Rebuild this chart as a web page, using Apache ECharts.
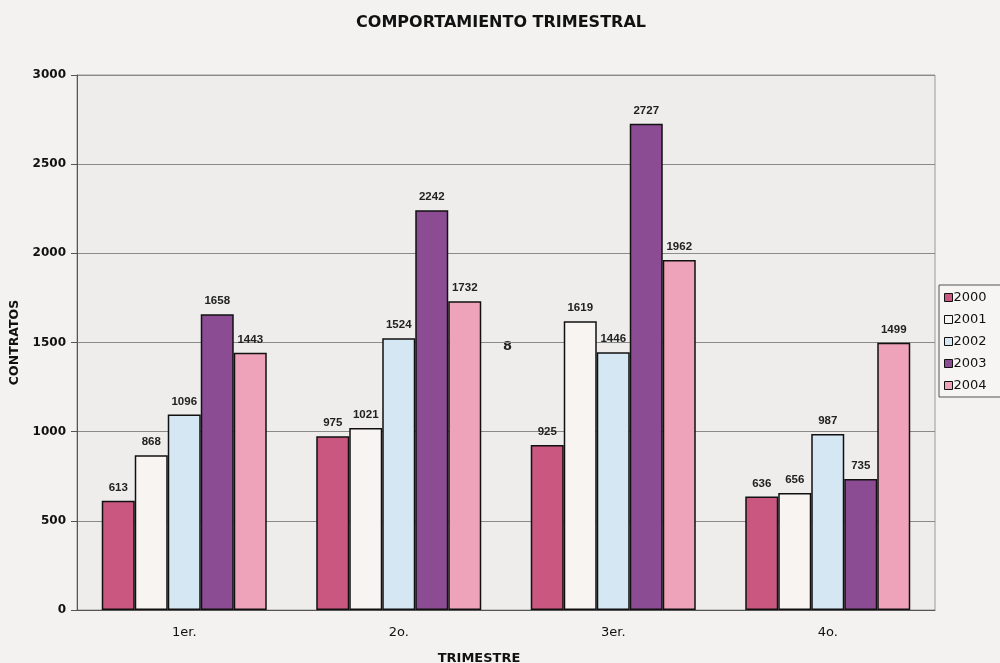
<!DOCTYPE html>
<html><head><meta charset="utf-8">
<script src="https://cdn.jsdelivr.net/npm/echarts@6/dist/echarts.min.js"></script>
<style>html,body{margin:0;padding:0;background:#f3f2f1;}#c{width:1000px;height:663px;}</style>
</head><body><div id="c"></div>
<script>
const categories = ['1er.', '2o.', '3er.', '4o.'];
const years = ['2000', '2001', '2002', '2003', '2004'];
const s2000 = [613, 975, 925, 636];
const s2001 = [868, 1021, 1619, 656];
const s2002 = [1096, 1524, 1446, 987];
const s2003 = [1658, 2242, 2727, 735];
const s2004 = [1443, 1732, 1962, 1499];
const yTicks = [0, 500, 1000, 1500, 2000, 2500, 3000];
const colors = ['#c9577f', '#f8f4f2', '#d5e7f3', '#8b4c93', '#eea3ba'];
const seriesData = [s2000, s2001, s2002, s2003, s2004];
const F = '"DejaVu Sans"';

const chart = echarts.init(document.getElementById('c'));
chart.setOption({
  backgroundColor: '#f3f2f1',
  animation: false,
  title: {
    text: 'COMPORTAMIENTO TRIMESTRAL', left: 496, top: 10, textAlign: 'center',
    textStyle: {fontFamily: F, fontWeight: 'bold', fontSize: 16, color: '#111'}
  },
  legend: {
    orient: 'vertical', left: 939, top: 285,
    padding: [6, 20, 5, 5], itemGap: 9,
    borderColor: '#555', borderWidth: 1, backgroundColor: '#f6f5f4',
    itemWidth: 8, itemHeight: 8, icon: 'rect',
    itemStyle: {borderColor: '#111', borderWidth: 1},
    textStyle: {fontFamily: F, fontSize: 13, color: '#111', padding: [0, 0, 0, -4]},
    data: years
  },
  grid: {left: 77, right: 65, top: 75, bottom: 53, outerBoundsMode: 'none', containLabel: false,
    show: true, backgroundColor: '#eeedec', borderColor: '#999', borderWidth: 1},
  xAxis: {
    type: 'category', data: categories,
    name: 'TRIMESTRE', nameLocation: 'middle', nameGap: 42,
    nameTextStyle: {fontFamily: F, fontWeight: 'bold', fontSize: 13, color: '#111', padding: [0, 54, 0, 0]},
    axisLine: {lineStyle: {color: '#555'}},
    axisTick: {show: false},
    axisLabel: {fontFamily: F, fontSize: 13, color: '#111', margin: 16}
  },
  yAxis: {
    type: 'value', min: 0, max: 3000, interval: 500,
    name: 'CONTRATOS', nameLocation: 'middle', nameGap: 48, nameRotate: 90,
    nameTextStyle: {fontFamily: F, fontWeight: 'bold', fontSize: 12.5, color: '#111'},
    axisLine: {show: true, lineStyle: {color: '#555'}},
    axisTick: {show: true, length: 6, lineStyle: {color: '#555'}},
    axisLabel: {fontFamily: F, fontWeight: 'bold', fontSize: 12, color: '#111', margin: 11,
      formatter: v => yTicks.includes(v) ? String(v) : ''},
    splitLine: {lineStyle: {color: '#8a8a8a', width: 1}}
  },
  graphic: [{
    type: 'text', left: 503, top: 340,
    style: {text: '8', font: 'bold 13px "DejaVu Sans"', fill: '#222'}
  }],
  series: years.map((y, i) => ({
    name: y, type: 'bar', data: seriesData[i],
    barWidth: 33, barGap: '0%',
    itemStyle: {color: colors[i], borderColor: '#111', borderWidth: 1.5},
    label: {show: true, position: 'top', distance: 7,
      fontFamily: 'Liberation Sans', fontWeight: 'bold', fontSize: 11.5, color: '#222'}
  }))
});
</script></body></html>
